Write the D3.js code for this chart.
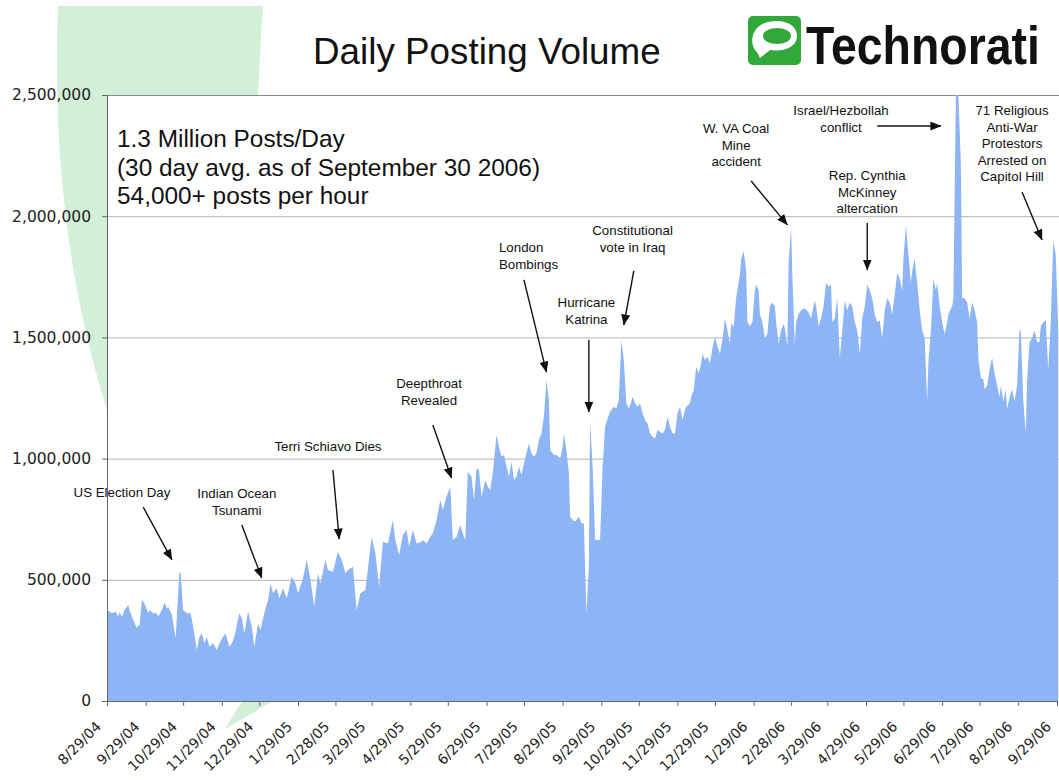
<!DOCTYPE html>
<html>
<head>
<meta charset="utf-8">
<script src="https://cdn.jsdelivr.net/npm/d3@7"></script>
<style>
  body { margin: 0; background: #fff; }
  svg { display: block; }
</style>
</head>
<body>
<svg id="chart" width="1059" height="780"></svg>
<script>
// daily posts, [days since 8/29/04, posts in thousands]
const volumeSeries = [
  [0,375],[4,362],[7,368],[9,348],[10,366],[12,348],[14,375],[17,396],[18,375],[21,334],
  [24,300],[25,314],[26,307],[28,417],[30,403],[33,362],[34,375],[37,362],[40,362],[41,348],
  [44,375],[46,406],[48,382],[49,389],[52,355],[55,259],[58,533],[59,527],[61,375],[64,362],
  [67,362],[69,307],[72,210],[74,265],[76,279],[78,238],[80,265],[82,224],[85,238],[88,210],
  [90,238],[93,265],[95,279],[98,224],[100,238],[102,265],[106,362],[108,341],[110,279],[113,368],
  [116,307],[118,224],[121,320],[123,293],[126,362],[129,417],[131,485],[133,444],[136,465],[138,424],
  [141,465],[144,424],[148,513],[151,485],[153,444],[157,506],[160,582],[163,499],[166,389],[169,527],
  [171,485],[175,582],[177,540],[181,533],[185,616],[188,582],[191,527],[193,540],[197,554],[200,375],
  [203,444],[207,458],[212,678],[215,609],[218,472],[221,657],[225,650],[229,747],[231,664],[234,602],
  [237,685],[240,705],[242,637],[245,705],[248,650],[252,657],
  [253,664],[256,650],[259,678],[261,692],[264,747],[267,829],[269,788],[272,843],[275,884],[277,664],
  [280,678],[283,726],[285,692],[287,664],[289,946],[292,925],[294,829],[296,960],[298,953],[300,843],
  [303,912],[305,884],[307,870],[309,939],[312,1097],[314,1049],[316,1008],[318,1015],[320,967],[322,925],
  [324,987],[326,912],[328,925],[330,967],[332,932],[334,980],[336,1022],[338,1063],[340,1022],[342,1008],
  [344,1022],[346,1077],[348,1104],[350,1173],[352,1324],[354,1242],[355,1035],[358,1015],[360,1015],[363,1001],
  [365,1049],[366,1104],[368,1035],[370,939],[371,760],[373,747],[375,740],[378,760],[380,733],[382,733],
  [384,362],[386,554],[387,1152],[389,967],[391,664],[395,664],[397,967],[399,1132],[402,1180],[403,1194],
  [406,1214],[408,1207],[410,1242],[412,1489],[414,1407],[416,1228],[418,1207],[420,1235],[421,1255],[423,1228],
  [425,1214],[427,1228],[429,1187],[431,1159],[433,1145],[435,1104],[437,1090],[439,1084],[441,1118],[443,1111],
  [445,1104],[447,1118],[449,1173],[451,1132],[453,1104],[455,1104],[457,1187],[459,1214],[461,1159],[463,1200],
  [464,1214],[467,1228],[468,1255],[470,1283],[472,1379],[474,1352],[476,1393],[477,1434],[479,1407],[481,1420],
  [483,1393],[485,1455],[487,1503],[489,1462],[491,1434],[493,1489],[495,1579],[497,1530],[499,1475],[500,1558],
  [502,1544],
  [504,1665],[507,1758],[508,1824],[510,1856],[512,1775],[513,1563],[515,1546],[517,1563],[519,1693],[520,1718],
  [522,1693],[523,1595],[525,1563],[527,1497],[529,1514],[531,1628],[533,1644],[535,1628],[536,1563],[538,1473],
  [540,1530],[542,1555],[543,1538],[545,1465],[546,1807],[548,1954],[549,1758],[551,1465],[552,1563],[554,1595],
  [556,1612],[559,1620],[562,1603],[564,1579],[567,1652],[568,1628],[570,1546],[572,1579],[574,1628],[576,1726],
  [578,1709],[580,1718],[581,1563],[583,1579],[585,1661],[587,1416],[589,1530],[591,1652],[593,1612],[595,1644],
  [597,1628],[599,1563],[601,1530],[603,1432],[605,1579],[607,1628],[609,1718],[611,1693],[613,1661],[615,1595],
  [617,1563],[619,1571],[621,1497],[623,1612],[625,1661],[627,1644],[629,1595],[631,1677],[633,1767],[635,1742],
  [637,1693],[638,1824],[640,1962],[642,1840],[644,1726],[645,1775],[647,1824],[649,1726],[651,1612],[653,1530],
  [655,1497],[657,1237],[658,1400],[660,1530],[662,1742],[664,1693],[665,1726],[667,1628],[669,1563],[671,1514],
  [673,1563],[674,1595],[677,1628],[678,1661],[680,2500],[682,2500],[684,2215],[685,1661],[687,1661],[689,1644],
  [691,1579],[693,1644],[695,1612],[697,1563],[698,1416],[700,1334],[702,1326],[703,1286],[705,1302],[707,1367],
  [709,1416],[711,1351],[713,1302],[715,1253],[716,1302],[718,1237],[720,1286],[721,1204],[723,1253],[725,1286],
  [727,1237],[729,1302],[731,1530],[732,1530],[734,1237],[736,1106],[737,1318],[739,1481],[741,1497],[743,1530],
  [745,1481],[747,1481],[748,1546],[750,1563],[752,1571],[754,1367],[756,1563],[758,1897],[760,1840],[762,1530]
];

const yTicks = [0, 500000, 1000000, 1500000, 2000000, 2500000];

const xTickLabels = ["8/29/04","9/29/04","10/29/04","11/29/04","12/29/04","1/29/05","2/28/05",
  "3/29/05","4/29/05","5/29/05","6/29/05","7/29/05","8/29/05","9/29/05","10/29/05","11/29/05",
  "12/29/05","1/29/06","2/28/06","3/29/06","4/29/06","5/29/06","6/29/06","7/29/06","8/29/06","9/29/06"];

const headline = ["1.3 Million Posts/Day", "(30 day avg. as of September 30 2006)", "54,000+ posts per hour"];

// events: text spot and arrow in [day, thousands]
const events = [
  { lines: ["US Election Day"], at: [12.4, 841], from: [29.6, 800], to: [52.1, 582] },
  { lines: ["Indian Ocean", "Tsunami"], at: [104.9, 837], from: [108.9, 726], to: [124.2, 507] },
  { lines: ["Terri Schiavo Dies"], at: [177.4, 1031], from: [181.8, 953], to: [186.6, 668] },
  { lines: ["Deepthroat", "Revealed"], at: [258.7, 1291], from: [261.9, 1139], to: [276.3, 920] },
  { lines: ["London", "Bombings"], at: [314.0, 1852], from: [334.8, 1737], to: [352.5, 1357], anchor: "start" },
  { lines: ["Constitutional", "vote in Iraq"], at: [421.3, 1922], from: [422.1, 1774], to: [414.9, 1551] },
  { lines: ["Hurricane", "Katrina"], at: [384.5, 1625], from: [386.9, 1489], to: [386.9, 1192] },
  { lines: ["W. VA Coal", "Mine", "accident"], at: [504.6, 2343], from: [516.7, 2145], to: [545.6, 1964] },
  { lines: ["Israel/Hezbollah", "conflict"], at: [588.8, 2417], from: [617.6, 2372], to: [668.8, 2372] },
  { lines: ["Rep. Cynthia", "McKinney", "altercation"], at: [609.6, 2149], from: [609.6, 1972], to: [609.6, 1778] },
  { lines: ["71 Religious", "Anti-War", "Protestors", "Arrested on", "Capitol Hill"], at: [725.7, 2417], from: [733.7, 2100], to: [749.0, 1902] }
];

const start = new Date(Date.UTC(2004, 7, 29));
const dayDate = d => d3.utcDay.offset(start, d);
const parseTick = d3.utcParse("%m/%d/%y");

const svg = d3.select("#chart");
const plot = { left: 107, right: 1057, top: 95, bottom: 701 };

const x = d3.scaleUtc()
  .domain([start, parseTick("9/29/06")])
  .range([plot.left, plot.right]);

const y = d3.scaleLinear()
  .domain([0, 2500000])
  .range([plot.bottom, plot.top]);

const ex = d => x(dayDate(d));
const ey = k => y(k * 1000);

// background swoosh of the slide
svg.append("path")
  .attr("d", "M58,6 C54,120 60,260 107,410 C165,530 215,640 242,701 L225,729 L273,701 C262,500 246,250 263,6 Z")
  .attr("fill", "#d2efd8");

svg.append("rect")
  .attr("x", plot.left)
  .attr("y", plot.top)
  .attr("width", 1059 - plot.left)
  .attr("height", plot.bottom - plot.top)
  .attr("fill", "#fff");

// gridlines
svg.append("g")
  .selectAll("line")
  .data(yTicks.filter(d => d > 0))
  .join("line")
  .attr("x1", plot.left)
  .attr("x2", 1059)
  .attr("y1", d => y(d) + 0.5)
  .attr("y2", d => y(d) + 0.5)
  .attr("stroke", d => d === 2500000 ? "#8a8a8a" : "#b4b4b4")
  .attr("stroke-width", 1);

// area
const area = d3.area()
  .x(d => ex(d[0]))
  .y0(y(0))
  .y1(d => ey(d[1]));

svg.append("path")
  .datum(volumeSeries)
  .attr("d", area)
  .attr("fill", "#8db4f4");

// axes
const yAxis = svg.append("g")
  .attr("transform", `translate(${plot.left},0)`)
  .call(d3.axisLeft(y).tickValues(yTicks).tickFormat(d3.format(",")).tickSize(5).tickPadding(11));

yAxis.selectAll("text")
  .attr("font-family", "'DejaVu Sans', Verdana, sans-serif")
  .attr("font-size", "15.5px")
  .attr("fill", "#222");
yAxis.selectAll("line").attr("stroke", "#666");
yAxis.select(".domain").attr("stroke", "#666");

const xAxis = svg.append("g")
  .attr("transform", `translate(0,${plot.bottom})`)
  .call(d3.axisBottom(x)
    .tickValues(xTickLabels.map(parseTick))
    .tickFormat((d, i) => xTickLabels[i])
    .tickSize(5));

xAxis.select(".domain").attr("stroke", "#666");
xAxis.selectAll("line").attr("stroke", "#666");
xAxis.selectAll("text")
  .attr("font-family", "'DejaVu Sans', Verdana, sans-serif")
  .attr("font-size", "14px")
  .attr("fill", "#222")
  .attr("text-anchor", "end")
  .attr("x", 0)
  .attr("y", 0)
  .attr("dy", "0.35em")
  .attr("transform", "translate(-9,23) rotate(-45)");

// title
svg.append("text")
  .attr("x", 313)
  .attr("y", 64)
  .attr("font-family", "'Liberation Sans', Arial, sans-serif")
  .attr("font-size", "36.8px")
  .attr("fill", "#111")
  .text("Daily Posting Volume");

// logo
const logo = svg.append("g");
logo.append("rect")
  .attr("x", 748).attr("y", 16).attr("width", 53).attr("height", 49).attr("rx", 5)
  .attr("fill", "#31a83a");
logo.append("path")
  .attr("d", "M757,52 C749,46 750,26 768,22 C786,18 798,26 797,37 C796,48 782,52 770,50 L760,58 Z")
  .attr("fill", "#fff");
logo.append("ellipse")
  .attr("cx", 777).attr("cy", 36).attr("rx", 14).attr("ry", 8)
  .attr("fill", "#31a83a");
logo.append("text")
  .attr("transform", "translate(806,64) scale(0.86,1)")
  .attr("font-family", "'Liberation Sans', Arial, sans-serif")
  .attr("font-weight", "bold")
  .attr("font-size", "54px")
  .attr("fill", "#111")
  .text("Technorati");

// headline inside the plot
svg.append("g")
  .selectAll("text")
  .data(headline)
  .join("text")
  .attr("x", 117)
  .attr("y", (d, i) => 147 + i * 28.5)
  .attr("font-family", "'Liberation Sans', Arial, sans-serif")
  .attr("font-size", "24.4px")
  .attr("fill", "#111")
  .text(d => d);

// arrows and event labels
svg.append("defs").append("marker")
  .attr("id", "head")
  .attr("viewBox", "0 0 11 9")
  .attr("refX", 10.5)
  .attr("refY", 4.5)
  .attr("markerWidth", 11)
  .attr("markerHeight", 9)
  .attr("markerUnits", "userSpaceOnUse")
  .attr("orient", "auto")
  .append("path")
  .attr("d", "M0,0 L11,4.5 L0,9 Z")
  .attr("fill", "#111");

const ev = svg.append("g");

ev.selectAll("line")
  .data(events)
  .join("line")
  .attr("x1", d => ex(d.from[0]))
  .attr("y1", d => ey(d.from[1]))
  .attr("x2", d => ex(d.to[0]))
  .attr("y2", d => ey(d.to[1]))
  .attr("stroke", "#111")
  .attr("stroke-width", 1.4)
  .attr("marker-end", "url(#head)");

ev.selectAll("text")
  .data(events)
  .join("text")
  .attr("font-family", "'Liberation Sans', Arial, sans-serif")
  .attr("font-size", "13.3px")
  .attr("fill", "#111")
  .attr("text-anchor", d => d.anchor || "middle")
  .selectAll("tspan")
  .data(d => d.lines.map(t => ({ t, d })))
  .join("tspan")
  .attr("x", o => ex(o.d.at[0]))
  .attr("y", (o, i) => ey(o.d.at[1]) + i * 16.5)
  .text(o => o.t);
</script>
</body>
</html>
